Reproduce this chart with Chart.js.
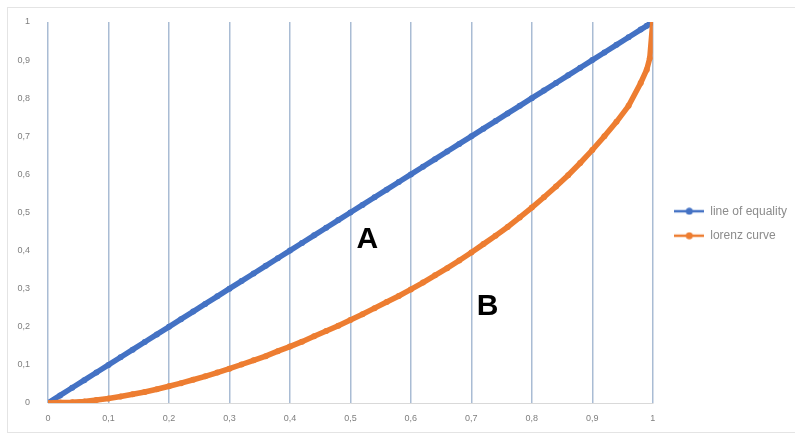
<!DOCTYPE html>
<html>
<head>
<meta charset="utf-8">
<script src="https://cdn.jsdelivr.net/npm/chart.js@4.4.1/dist/chart.umd.min.js"></script>
<style>
  html, body { margin: 0; padding: 0; background: #fff; overflow: hidden; }
  #frame { position: absolute; left: 7px; top: 7px; width: 820px; height: 424px; border: 1px solid #e4e4e4; }
  #wrap { position: absolute; left: 0; top: 0; width: 795px; height: 433px; }
</style>
</head>
<body>
<div id="frame"></div>
<div id="wrap"><canvas id="lorenzChart" width="795" height="433"></canvas></div>
<script>
// population share (x) shared by both series
const shares = [0, 0.02, 0.04, 0.06, 0.08, 0.1, 0.12, 0.14, 0.16, 0.18,
  0.2, 0.22, 0.24, 0.26, 0.28, 0.3, 0.32, 0.34, 0.36, 0.38,
  0.4, 0.42, 0.44, 0.46, 0.48, 0.5, 0.52, 0.54, 0.56, 0.58,
  0.6, 0.62, 0.64, 0.66, 0.68, 0.7, 0.72, 0.74, 0.76, 0.78,
  0.8, 0.82, 0.84, 0.86, 0.88, 0.9, 0.92, 0.94, 0.96, 0.98, 0.99, 0.995, 1];

// line of equality
const equality = shares.slice();

// lorenz curve
const lorenz = [0, 0.001, 0.002, 0.004, 0.008, 0.012, 0.017, 0.023, 0.029, 0.036,
  0.044, 0.052, 0.061, 0.07, 0.08, 0.09, 0.101, 0.112, 0.123, 0.136,
  0.148, 0.161, 0.175, 0.189, 0.203, 0.218, 0.233, 0.249, 0.265, 0.281,
  0.298, 0.316, 0.335, 0.354, 0.374, 0.395, 0.417, 0.439, 0.462, 0.487,
  0.513, 0.54, 0.568, 0.598, 0.63, 0.664, 0.7, 0.738, 0.78, 0.84, 0.875, 0.905, 1];

const seriesNames = ["line of equality", "lorenz curve"];
const tickLabels = ["0", "0,1", "0,2", "0,3", "0,4", "0,5", "0,6", "0,7", "0,8", "0,9", "1"];

// area labels in data units
const areaLabels = ["A", "B"];
const areaX = [0.528, 0.727];
const areaY = [0.428, 0.252];

const BLUE = "#4472c4";
const ORANGE = "#ed7d31";

function legendIcon(color) {
    const c = document.createElement("canvas");
    c.width = 30; c.height = 8;
    const g = c.getContext("2d");
    g.strokeStyle = color; g.lineWidth = 2.5;
    g.beginPath(); g.moveTo(0, 4); g.lineTo(30, 4); g.stroke();
    g.fillStyle = color;
    g.beginPath(); g.arc(15, 4, 3.5, 0, Math.PI * 2); g.fill();
    return c;
}

function tickText(v) {
    const i = Math.round(v * 10);
    return tickLabels[i] !== undefined ? tickLabels[i] : "";
}

const areaTextPlugin = {
    id: "areaText",
    afterLayout(chart) {
        // nudge legend a little, like the original
        chart.legend.top -= 4;
        chart.legend.bottom -= 4;
        chart.legend.left += 9;
        chart.legend.right += 9;
    },
    afterDatasetsDraw(chart) {
        const ctx = chart.ctx;
        const xs = chart.scales.x, ys = chart.scales.y;
        ctx.save();
        ctx.fillStyle = "#000";
        ctx.font = "bold 30px 'Liberation Sans', Arial, sans-serif";
        ctx.textAlign = "center";
        ctx.textBaseline = "middle";
        areaLabels.forEach((t, i) => {
            ctx.fillText(t, xs.getPixelForValue(areaX[i]), ys.getPixelForValue(areaY[i]));
        });
        ctx.restore();
    }
};

const lorenzChart = new Chart(document.getElementById("lorenzChart"), {
    type: 'scatter',
    data: {
        datasets: [{
            label: seriesNames[0],
            data: shares.map((x, i) => ({ x: x, y: equality[i] })),
            showLine: true,
            borderColor: BLUE,
            backgroundColor: BLUE,
            borderWidth: 5.5,
            pointRadius: 3,
            pointBorderWidth: 0,
            order: 1
        }, {
            label: seriesNames[1],
            data: shares.map((x, i) => ({ x: x, y: lorenz[i] })),
            showLine: true,
            borderColor: ORANGE,
            backgroundColor: ORANGE,
            borderWidth: 5.5,
            pointRadius: 3,
            pointBorderWidth: 0,
            order: 0
        }]
    },
    options: {
        responsive: false,
        animation: false,
        layout: { padding: { top: 22, left: 0, right: 7, bottom: 0 } },
        scales: {
            x: {
                type: 'linear',
                min: 0,
                max: 1,
                ticks: {
                    stepSize: 0.1,
                    padding: 10,
                    color: "#7f7f7f",
                    font: { size: 9, family: "'Liberation Sans', Arial, sans-serif" },
                    callback: tickText
                },
                grid: { color: "#a9bcd4", lineWidth: 1.5, drawTicks: false },
                border: { display: true, color: "#d9d9d9", width: 1 },
                afterFit(scale) { scale.height = 30; }
            },
            y: {
                min: 0,
                max: 1,
                ticks: {
                    stepSize: 0.1,
                    padding: 10,
                    color: "#7f7f7f",
                    font: { size: 9, family: "'Liberation Sans', Arial, sans-serif" },
                    callback: tickText
                },
                grid: { display: false },
                border: { display: false },
                afterFit(scale) { scale.width = 48; }
            }
        },
        plugins: {
            legend: {
                position: 'right',
                labels: {
                    usePointStyle: true,
                    pointStyleWidth: 30,
                    padding: 12.5,
                    color: "#8c8c8c",
                    font: { size: 12, family: "'Liberation Sans', Arial, sans-serif" },
                    generateLabels(chart) {
                        return chart.data.datasets.map((ds, i) => ({
                            text: ds.label,
                            fillStyle: ds.borderColor,
                            strokeStyle: ds.borderColor,
                            pointStyle: legendIcon(ds.borderColor),
                            fontColor: "#8c8c8c",
                            lineWidth: 0,
                            hidden: false,
                            datasetIndex: i
                        }));
                    }
                }
            },
            tooltip: { enabled: false }
        }
    },
    plugins: [areaTextPlugin]
});
</script>
</body>
</html>
